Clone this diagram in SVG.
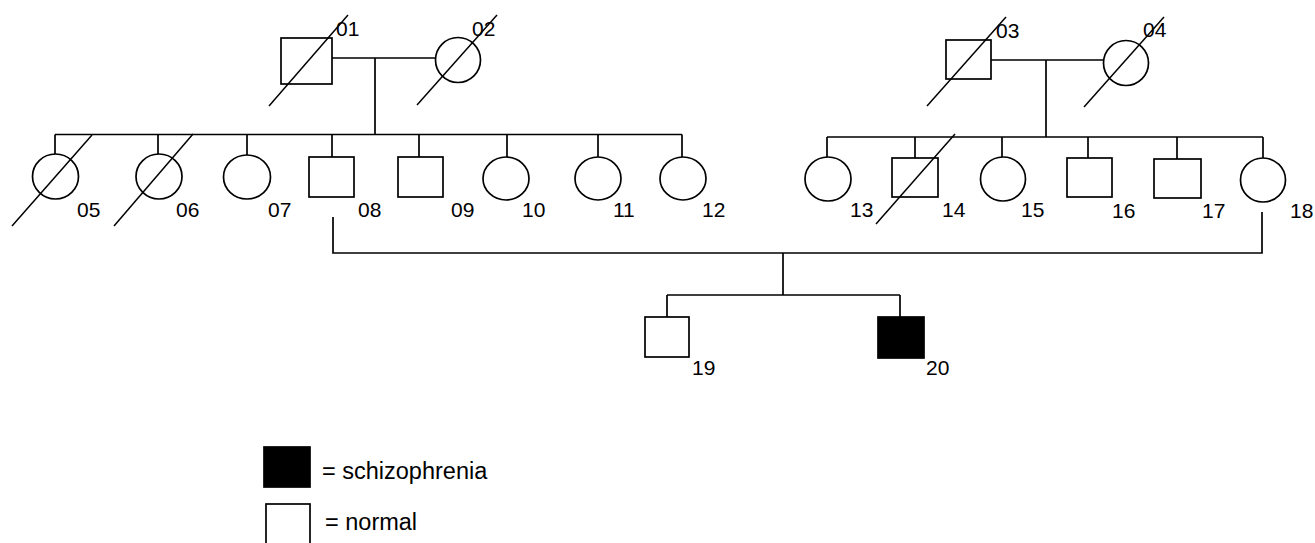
<svg xmlns="http://www.w3.org/2000/svg" width="1315" height="543" viewBox="0 0 1315 543">
<style>
.s{fill:#fff;stroke:#000;stroke-width:1.7}
.a{fill:#000;stroke:#000;stroke-width:1.7}
.d{stroke:#000;stroke-width:1.5;fill:none}
.c{stroke:#000;stroke-width:1.7;fill:none}
.t{font-family:"Liberation Sans",Arial,sans-serif;font-size:21px;fill:#000}
.l{font-family:"Liberation Sans",Arial,sans-serif;font-size:23.5px;fill:#000}
</style>
<rect width="1315" height="543" fill="#fff"/>
<g id="connectors">
<path class="c" d="M332 58H436M375 58V134.5"/>
<path class="c" d="M55 134.5H682M55 134.5V154M158 134.5V154M247 134.5V155M332 134.5V157M419 134.5V157M507 134.5V157M598 134.5V157M682 134.5V157"/>
<path class="c" d="M991 60H1104M1046 60V137"/>
<path class="c" d="M827 137H1263M827 137V157M915 137V158M1002 137V157M1088 137V158M1177 137V159M1263 137V158"/>
<path class="c" d="M333 217V253H1262V212"/>
<path class="c" d="M783 253V295M667 295H900M667 295V317M900 295V317"/>
</g>
<g id="n01"><rect class="s" x="281" y="38" width="51" height="46"/><line class="d" x1="269" y1="106" x2="348" y2="15"/><text class="t" x="336" y="36">01</text></g>
<g id="n02"><circle class="s" cx="458" cy="60" r="22.5"/><line class="d" x1="417" y1="105" x2="497" y2="15"/><text class="t" x="472" y="36">02</text></g>
<g id="n03"><rect class="s" x="946" y="40" width="45" height="39"/><line class="d" x1="927" y1="106" x2="1006" y2="17"/><text class="t" x="996" y="38">03</text></g>
<g id="n04"><circle class="s" cx="1126" cy="63" r="22.5"/><line class="d" x1="1084" y1="107" x2="1164" y2="17"/><text class="t" x="1143" y="37">04</text></g>
<g id="n05"><ellipse class="s" cx="55.5" cy="176.5" rx="23" ry="22.5"/><line class="d" x1="12" y1="226" x2="92" y2="135"/><text class="t" x="77" y="217">05</text></g>
<g id="n06"><ellipse class="s" cx="159" cy="176.5" rx="23" ry="22.5"/><line class="d" x1="114" y1="226" x2="193" y2="134"/><text class="t" x="176" y="217">06</text></g>
<g id="n07"><ellipse class="s" cx="247" cy="177" rx="23.5" ry="22"/><text class="t" x="268" y="217">07</text></g>
<g id="n08"><rect class="s" x="309" y="157" width="45" height="40"/><text class="t" x="358" y="217">08</text></g>
<g id="n09"><rect class="s" x="398" y="157" width="45" height="40"/><text class="t" x="451" y="217">09</text></g>
<g id="n10"><ellipse class="s" cx="506" cy="178.5" rx="23" ry="21.5"/><text class="t" x="522" y="217">10</text></g>
<g id="n11"><ellipse class="s" cx="598" cy="178.5" rx="23" ry="21.5"/><text class="t" x="613" y="217">11</text></g>
<g id="n12"><ellipse class="s" cx="683" cy="178.5" rx="23" ry="21.5"/><text class="t" x="702" y="217">12</text></g>
<g id="n13"><ellipse class="s" cx="828" cy="179" rx="23" ry="22"/><text class="t" x="850" y="217">13</text></g>
<g id="n14"><rect class="s" x="892" y="158" width="46" height="39"/><line class="d" x1="876" y1="224" x2="955" y2="134"/><text class="t" x="942" y="217">14</text></g>
<g id="n15"><ellipse class="s" cx="1003" cy="179" rx="22.5" ry="22"/><text class="t" x="1021" y="217">15</text></g>
<g id="n16"><rect class="s" x="1067" y="158" width="45" height="39"/><text class="t" x="1112" y="218">16</text></g>
<g id="n17"><rect class="s" x="1154" y="159" width="47" height="39"/><text class="t" x="1202" y="218">17</text></g>
<g id="n18"><ellipse class="s" cx="1263" cy="180" rx="22.5" ry="22"/><text class="t" x="1290" y="218">18</text></g>
<g id="n19"><rect class="s" x="645" y="317" width="44" height="40"/><text class="t" x="692" y="375">19</text></g>
<g id="n20"><rect class="a" x="878" y="317" width="46" height="41"/><text class="t" x="926" y="375">20</text></g>
<g id="legend">
<rect class="a" x="264" y="447" width="46" height="40"/><text class="l" x="322" y="479">= schizophrenia</text>
<rect class="s" x="266" y="504" width="44" height="44"/><text class="l" x="325" y="530">= normal</text>
</g>
</svg>
